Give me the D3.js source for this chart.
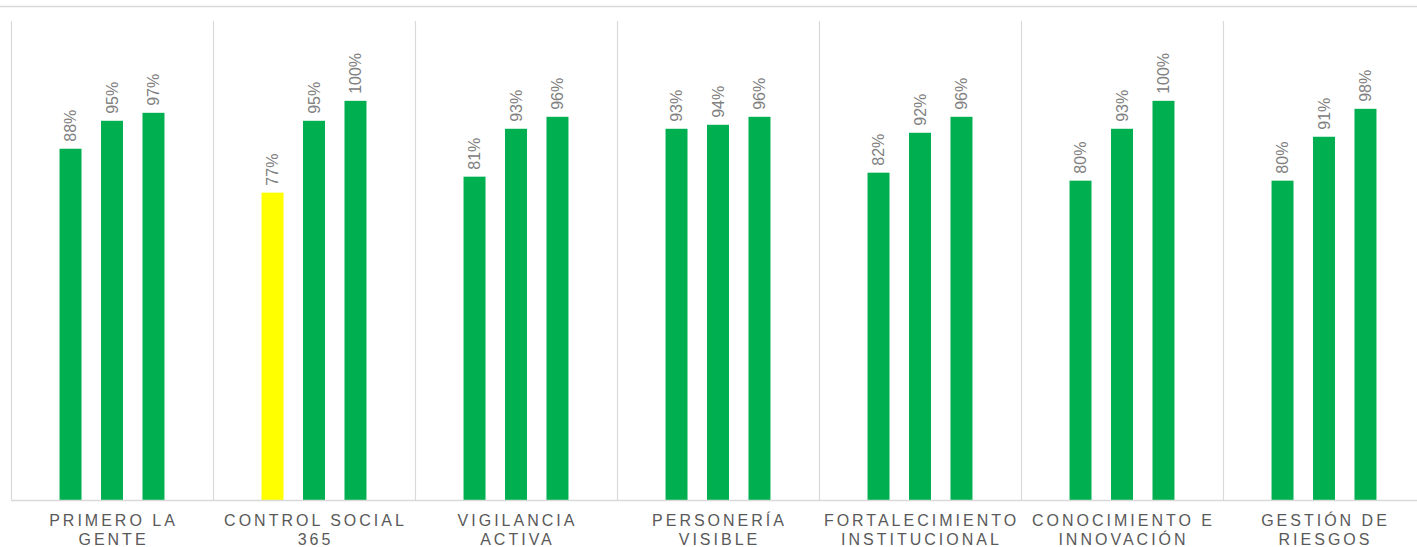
<!DOCTYPE html>
<html>
<head>
<meta charset="utf-8">
<script src="https://cdn.jsdelivr.net/npm/d3@7"></script>
<style>
  body { margin: 0; background: #fff; overflow: hidden; }
  text { font-family: "Liberation Sans", Arial, sans-serif; }
</style>
</head>
<body>
<script>
  var w = 1417, h = 547;

  // categories, two lines each
  var categories = [
    ["PRIMERO LA", "GENTE"],
    ["CONTROL SOCIAL", "365"],
    ["VIGILANCIA", "ACTIVA"],
    ["PERSONERÍA", "VISIBLE"],
    ["FORTALECIMIENTO", "INSTITUCIONAL"],
    ["CONOCIMIENTO E", "INNOVACIÓN"],
    ["GESTIÓN DE", "RIESGOS"]
  ];
  var series = ["s1", "s2", "s3"];
  var s1 = [0.88, 0.77, 0.81, 0.93, 0.82, 0.80, 0.80],
      s2 = [0.95, 0.95, 0.93, 0.94, 0.92, 0.93, 0.91],
      s3 = [0.97, 1.00, 0.96, 0.96, 0.96, 1.00, 0.98];
  // bars below the target get the yellow colour
  var warn = [[1, 0]];

  var plotLeft = 11, plotRight = 1425, plotTop = 21, base = 500;

  var svg = d3.select("body").append("svg")
    .attr("width", w)
    .attr("height", h);

  var x0 = d3.scaleBand()
    .domain(d3.range(categories.length))
    .range([plotLeft, plotRight])
    .padding(0);

  var x1 = d3.scaleBand()
    .domain(series)
    .range([0, x0.bandwidth()])
    .paddingInner(0.47)
    .paddingOuter(1.17);

  var y = d3.scaleLinear()
    .domain([0, 1.2])
    .range([base, plotTop]);

  // top rule
  svg.append("line")
    .attr("x1", 0).attr("x2", w)
    .attr("y1", 6.5).attr("y2", 6.5)
    .attr("stroke", "#d9d9d9")
    .attr("stroke-width", 1.5);

  // category separators
  svg.append("g").selectAll("line")
    .data(d3.range(categories.length + 1))
    .enter().append("line")
      .attr("x1", function(d) { return Math.round(plotLeft + d * x0.step()) + 0.5; })
      .attr("x2", function(d) { return Math.round(plotLeft + d * x0.step()) + 0.5; })
      .attr("y1", plotTop)
      .attr("y2", base)
      .attr("stroke", "#d9d9d9")
      .attr("stroke-width", 1.2);

  var rows = categories.map(function(c, i) {
    return {i: i, vals: [s1[i], s2[i], s3[i]]};
  });

  var group = svg.append("g").selectAll("g")
    .data(rows)
    .enter().append("g")
      .attr("transform", function(d) { return "translate(" + x0(d.i) + ",0)"; });

  var cell = group.selectAll("g")
    .data(function(d) {
      return d.vals.map(function(v, k) { return {cat: d.i, k: k, v: v}; });
    })
    .enter().append("g");

  cell.append("rect")
    .attr("x", function(d) { return x1(series[d.k]); })
    .attr("width", x1.bandwidth())
    .attr("y", function(d) { return y(d.v); })
    .attr("height", function(d) { return base - y(d.v); })
    .attr("fill", function(d) {
      var yellow = warn.some(function(p) { return p[0] === d.cat && p[1] === d.k; });
      return yellow ? "#ffff00" : "#00b050";
    });

  cell.append("text")
    .attr("transform", function(d) {
      var cx = x1(series[d.k]) + x1.bandwidth() / 2;
      return "translate(" + cx + "," + (y(d.v) - 7) + ")rotate(-90)";
    })
    .attr("dy", "0.36em")
    .attr("fill", "#808080")
    .style("font-size", "16px")
    .text(function(d) { return Math.round(d.v * 100) + "%"; });

  // baseline
  svg.append("line")
    .attr("x1", plotLeft).attr("x2", w)
    .attr("y1", base + 0.5).attr("y2", base + 0.5)
    .attr("stroke", "#d9d9d9")
    .attr("stroke-width", 1.5);

  // category labels
  var lab = svg.append("g").selectAll("text")
    .data(categories)
    .enter().append("text")
      .attr("x", function(d, i) { return x0(i) + x0.bandwidth() / 2 + 1.5; })
      .attr("y", 526)
      .attr("text-anchor", "middle")
      .attr("fill", "#595959")
      .style("font-size", "16px")
      .style("letter-spacing", "3px");

  lab.selectAll("tspan")
    .data(function(d) { return d; })
    .enter().append("tspan")
      .attr("x", function() { return d3.select(this.parentNode).attr("x"); })
      .attr("dy", function(d, i) { return i ? 19 : 0; })
      .text(function(d) { return d; });
</script>
</body>
</html>
